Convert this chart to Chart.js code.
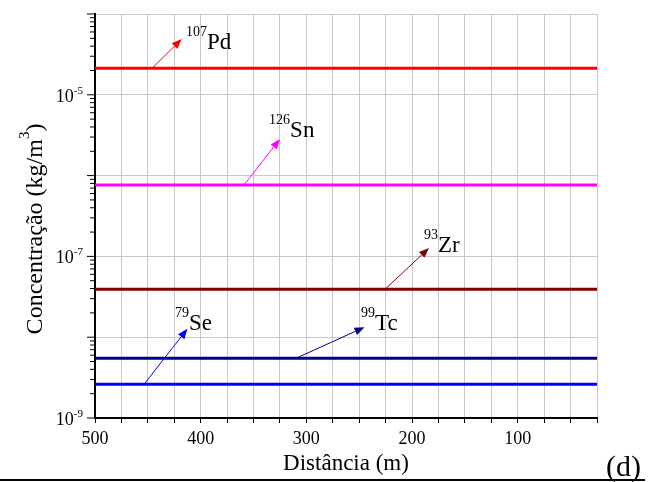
<!DOCTYPE html>
<html>
<head>
<meta charset="utf-8">
<script src="https://cdn.jsdelivr.net/npm/chart.js@4.4.0/dist/chart.umd.min.js"></script>
<style>
  html, body { margin: 0; padding: 0; background: #fff; }
  #wrap { width: 648px; height: 482px; position: relative; }
</style>
</head>
<body>
<div id="wrap"><canvas id="grafico" width="648" height="482"></canvas></div>
<script>
// ===== dados =====
const distancias = [500, 25];               // m

// concentração (kg/m3) de cada nuclídeo
const concPd107 = [2.13e-5, 2.13e-5];
const concSn126 = [7.65e-7, 7.65e-7];
const concZr93  = [3.92e-8, 3.92e-8];
const concTc99  = [5.47e-9, 5.47e-9];
const concSe79  = [2.61e-9, 2.61e-9];

const massas   = ["107", "126", "93", "99", "79"];
const simbolos = ["Pd", "Sn", "Zr", "Tc", "Se"];
const cores    = ["#ff0000", "#ff00ff", "#800000", "#000080", "#0000ff"];

// setas: saem da curva (x inicial) e apontam para o rótulo
const setaIniX = [446, 359, 225.5, 310, 453.6];
const setaFimX = [418, 325, 184, 245, 412.6];
const setaFimY = [4.9e-5, 2.84e-6, 1.27e-7, 1.33e-8, 1.27e-8];

// posição dos rótulos (início do símbolo, linha de base)
const rotuloX = [394, 315.4, 175.4, 235, 411];
const rotuloY = [3.69e-5, 3.0e-6, 1.13e-7, 1.23e-8, 1.23e-8];

const decadas = [-9, -8, -7, -6, -5, -4];
const decadasRotuladas = [-9, -7, -5];

const FONTE = "'Liberation Serif', 'Times New Roman', serif";
const series = [concPd107, concSn126, concZr93, concTc99, concSe79];

// ===== plugin: ticks do eixo y, rótulos, setas, títulos =====
function seta(ctx, x0, y0, x1, y1, cor) {
  const ang = Math.atan2(y1 - y0, x1 - x0);
  const L = 10, W = 4;
  const bx = x1 - L * Math.cos(ang), by = y1 - L * Math.sin(ang);
  ctx.strokeStyle = cor; ctx.fillStyle = cor; ctx.lineWidth = 1;
  ctx.beginPath(); ctx.moveTo(x0, y0); ctx.lineTo(bx, by); ctx.stroke();
  ctx.beginPath();
  ctx.moveTo(x1, y1);
  ctx.lineTo(bx + W * Math.sin(ang), by - W * Math.cos(ang));
  ctx.lineTo(bx - W * Math.sin(ang), by + W * Math.cos(ang));
  ctx.closePath(); ctx.fill();
}

const extras = {
  id: 'extras',
  afterDatasetsDraw(chart) {
    const ctx = chart.ctx, xs = chart.scales.x, ys = chart.scales.y;
    ctx.save();
    for (let i = 0; i < series.length; i++) {
      seta(ctx,
        xs.getPixelForValue(setaIniX[i]), ys.getPixelForValue(series[i][0]),
        xs.getPixelForValue(setaFimX[i]), ys.getPixelForValue(setaFimY[i]), cores[i]);
      const tx = xs.getPixelForValue(rotuloX[i]);
      const ty = ys.getPixelForValue(rotuloY[i]);
      ctx.fillStyle = '#000';
      ctx.textBaseline = 'alphabetic';
      ctx.font = `23px ${FONTE}`;
      ctx.textAlign = 'left';
      ctx.fillText(simbolos[i], tx, ty);
      ctx.font = `14px ${FONTE}`;
      ctx.textAlign = 'right';
      ctx.fillText(massas[i], tx, ty - 13);
    }
    ctx.restore();
  },
  afterDraw(chart) {
    const ctx = chart.ctx, ys = chart.scales.y;
    const esq = chart.chartArea.left;
    ctx.save();
    ctx.strokeStyle = '#000';
    ctx.lineWidth = 1;
    // ticks maiores e menores do eixo log
    decadas.forEach(d => {
      const y = ys.getPixelForValue(Math.pow(10, d));
      ctx.beginPath(); ctx.moveTo(esq - 8, y); ctx.lineTo(esq, y); ctx.stroke();
      if (d < -4) {
        for (let m = 2; m <= 9; m++) {
          const ym = ys.getPixelForValue(m * Math.pow(10, d));
          ctx.beginPath(); ctx.moveTo(esq - 5, ym); ctx.lineTo(esq, ym); ctx.stroke();
        }
      }
    });
    // rótulos 10^n
    ctx.fillStyle = '#000';
    ctx.textBaseline = 'alphabetic';
    decadasRotuladas.forEach(d => {
      const y = ys.getPixelForValue(Math.pow(10, d));
      ctx.font = `11px ${FONTE}`;
      ctx.textAlign = 'right';
      const sup = '-' + Math.abs(d);
      ctx.fillText(sup, esq - 12, y - 1);
      const wSup = ctx.measureText(sup).width;
      ctx.font = `18px ${FONTE}`;
      ctx.fillText('10', esq - 12 - wSup, y + 7);
    });
    // título do eixo y com expoente
    const base = 'Concentração (kg/m', exp = '3', fim = ')';
    ctx.font = `24px ${FONTE}`;
    const w1 = ctx.measureText(base).width, w3 = ctx.measureText(fim).width;
    ctx.font = `15px ${FONTE}`;
    const w2 = ctx.measureText(exp).width;
    const total = w1 + w2 + w3;
    ctx.translate(42, 229);
    ctx.rotate(-Math.PI / 2);
    ctx.textAlign = 'left';
    ctx.font = `24px ${FONTE}`;
    ctx.fillText(base, -total / 2, 0);
    ctx.font = `15px ${FONTE}`;
    ctx.fillText(exp, -total / 2 + w1, -13);
    ctx.font = `24px ${FONTE}`;
    ctx.fillText(fim, -total / 2 + w1 + w2, 0);
    ctx.setTransform(1, 0, 0, 1, 0, 0);
    // linha inferior e letra do painel
    ctx.lineWidth = 2;
    ctx.beginPath(); ctx.moveTo(0, 480); ctx.lineTo(645, 480); ctx.stroke();
    ctx.font = `30px ${FONTE}`;
    ctx.textAlign = 'left';
    ctx.fillText('(d)', 606, 476);
    ctx.restore();
  }
};

const datasets = series.map((s, i) => ({
  label: massas[i] + simbolos[i],
  data: distancias.map((x, k) => ({ x: x, y: s[k] })),
  borderColor: cores[i],
  borderWidth: 3,
  pointRadius: 0,
  fill: false
}));

new Chart(document.getElementById('grafico'), {
  type: 'line',
  data: { datasets },
  options: {
    responsive: false,
    animation: false,
    devicePixelRatio: 1,
    layout: { padding: { left: 0, right: 51, top: 14, bottom: 0 } },
    plugins: { legend: { display: false }, tooltip: { enabled: false } },
    scales: {
      x: {
        type: 'linear',
        reverse: true,
        min: 25, max: 500,
        afterFit: s => { s.height = 64; },
        grid: { color: '#c8c8c8', lineWidth: 1, tickColor: '#000', tickLength: 5, tickWidth: 1 },
        border: { color: '#000', width: 2 },
        ticks: {
          stepSize: 25, autoSkip: false, maxRotation: 0, padding: 5,
          color: '#000', font: { family: FONTE, size: 18 },
          callback: v => (v % 100 === 0 ? v : '')
        },
        title: { display: true, text: 'Distância (m)', color: '#000',
                 font: { family: FONTE, size: 23 }, padding: { top: 0, bottom: 4 } }
      },
      y: {
        type: 'logarithmic',
        min: 1e-9, max: 1e-4,
        afterFit: s => { s.width = 95; },
        afterBuildTicks: s => { s.ticks = decadas.map(d => ({ value: Math.pow(10, d) })); },
        grid: { color: '#c8c8c8', lineWidth: 1, drawTicks: false },
        border: { color: '#000', width: 2 },
        ticks: { display: false }
      }
    }
  },
  plugins: [extras]
});
</script>
</body>
</html>
